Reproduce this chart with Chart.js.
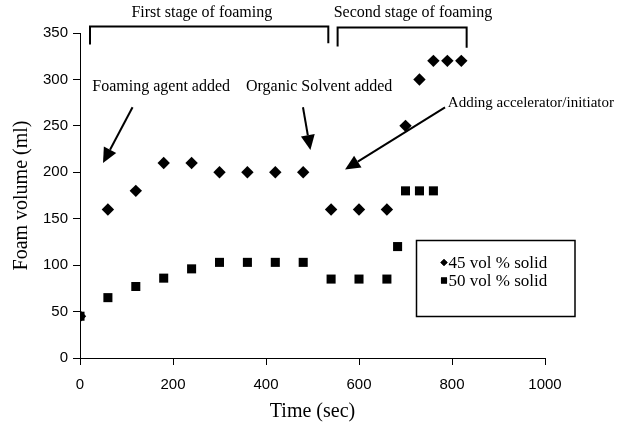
<!DOCTYPE html>
<html>
<head>
<meta charset="utf-8">
<script src="https://cdn.jsdelivr.net/npm/chart.js@4/dist/chart.umd.min.js"></script>
<style>
html,body{margin:0;padding:0;background:#fff;}
#wrap{width:636px;height:426px;position:relative;}
</style>
</head>
<body>
<div id="wrap"><canvas id="c" width="636" height="426"></canvas></div>
<script>
// ---- data ----
const time45 = [0, 60, 120, 180, 240, 300, 360, 420, 480, 540, 600, 660, 700, 730, 760, 790, 820];
const vol45  = [45, 160, 180, 210, 210, 200, 200, 200, 200, 160, 160, 160, 250, 300, 320, 320, 320];
const time50 = [0, 60, 120, 180, 240, 300, 360, 420, 480, 540, 600, 660, 683, 700, 730, 760];
const vol50  = [45, 65, 77, 86, 96, 103, 103, 103, 103, 85, 85, 85, 120, 180, 180, 180];
const seriesLabels = ['45 vol % solid', '50 vol % solid'];
const xTicks = [0, 200, 400, 600, 800, 1000];
const yTicks = [0, 50, 100, 150, 200, 250, 300, 350];
const xTitle = 'Time (sec)';
const yTitle = 'Foam volume (ml)';
const stageLabels = ['First stage of foaming', 'Second stage of foaming'];
const noteLabels = ['Foaming agent added', 'Organic Solvent added', 'Adding accelerator/initiator'];

const SERIF = '"Liberation Serif", "Times New Roman", serif';
const SANS = '"Liberation Sans", Arial, sans-serif';

function pts(xs, ys) { return xs.map((x, i) => ({x: x, y: ys[i]})); }

// annotation layout (data units)
const brackets = [
  {x0: 21.5, x1: 534, top: 357, b0: 337.5, b1: 339},
  {x0: 554, x1: 831.5, top: 356, b0: 335.5, b1: 334}
];
const stagePos = [{x: 262, y: 371.5}, {x: 716, y: 371.5}];
const notePos = [{x: 26.5, y: 292, size: 16}, {x: 357, y: 292, size: 16}, {x: 791, y: 275, size: 15}];
const arrows = [
  {x0: 113, y0: 270, x1: 49.5, y1: 210},
  {x0: 479.5, y0: 270, x1: 495.5, y1: 224},
  {x0: 785, y0: 270, x1: 570, y1: 203}
];

const annot = {
  id: 'annot',
  afterDraw(chart) {
    const ctx = chart.ctx, xs = chart.scales.x, ys = chart.scales.y;
    const px = v => xs.getPixelForValue(v), py = v => ys.getPixelForValue(v);
    ctx.save();
    ctx.strokeStyle = '#000'; ctx.fillStyle = '#000';
    // brackets
    ctx.lineWidth = 2;
    brackets.forEach(b => {
      ctx.beginPath();
      ctx.moveTo(px(b.x0), py(b.b0));
      ctx.lineTo(px(b.x0), py(b.top));
      ctx.lineTo(px(b.x1), py(b.top));
      ctx.lineTo(px(b.x1), py(b.b1));
      ctx.stroke();
    });
    ctx.font = '16px ' + SERIF;
    ctx.textBaseline = 'middle';
    ctx.textAlign = 'center';
    stageLabels.forEach((t, i) => ctx.fillText(t, px(stagePos[i].x), py(stagePos[i].y)));
    ctx.textAlign = 'left';
    noteLabels.forEach((t, i) => {
      ctx.font = notePos[i].size + 'px ' + SERIF;
      ctx.fillText(t, px(notePos[i].x), py(notePos[i].y));
    });
    // arrows
    arrows.forEach(a => {
      const X0 = px(a.x0), Y0 = py(a.y0), X1 = px(a.x1), Y1 = py(a.y1);
      const ang = Math.atan2(Y1 - Y0, X1 - X0);
      const L = 15, W = 7;
      const bx = X1 - L * Math.cos(ang), by = Y1 - L * Math.sin(ang);
      ctx.lineWidth = 2;
      ctx.beginPath(); ctx.moveTo(X0, Y0); ctx.lineTo(bx, by); ctx.stroke();
      ctx.beginPath();
      ctx.moveTo(X1, Y1);
      ctx.lineTo(bx + W * Math.sin(ang), by - W * Math.cos(ang));
      ctx.lineTo(bx - W * Math.sin(ang), by + W * Math.cos(ang));
      ctx.closePath(); ctx.fill();
    });
    // legend box
    const L0 = 416.5, T0 = 240.5, R0 = 575, B0 = 316.5;
    ctx.lineWidth = 1.5;
    ctx.strokeRect(L0, T0, R0 - L0, B0 - T0);
    ctx.font = '17px ' + SERIF;
    ctx.textAlign = 'left';
    ctx.textBaseline = 'middle';
    const styles = ['rectRot', 'rect'];
    const rads = [3.6, 4.3];
    chart.data.datasets.forEach((ds, i) => {
      const yy = 262.5 + i * 18;
      Chart.helpers.drawPoint(ctx, {pointStyle: styles[i], radius: rads[i], borderWidth: 0}, 444, yy);
      ctx.fillStyle = '#000';
      ctx.fill();
      ctx.fillText(ds.label, 448.5, yy + 1);
    });
    ctx.restore();
  }
};

new Chart(document.getElementById('c'), {
  type: 'scatter',
  data: {
    datasets: [
      {label: seriesLabels[0], data: pts(time45, vol45), pointStyle: 'rectRot', pointRadius: 6.2,
       backgroundColor: '#000', borderColor: '#000', borderWidth: 0, showLine: false},
      {label: seriesLabels[1], data: pts(time50, vol50), pointStyle: 'rect', pointRadius: 6.4,
       backgroundColor: '#000', borderColor: '#000', borderWidth: 0, showLine: false}
    ]
  },
  options: {
    responsive: false,
    animation: false,
    events: [],
    layout: {padding: {left: 0, right: 91, top: 33, bottom: 0}},
    plugins: {legend: {display: false}, tooltip: {enabled: false}, title: {display: false}},
    scales: {
      x: {
        type: 'linear', min: 0, max: 1000,
        afterBuildTicks: s => { s.ticks = xTicks.map(v => ({value: v})); },
        afterFit: s => { s.height = 68; },
        ticks: {color: '#000', font: {family: SANS, size: 15}, padding: 11, maxRotation: 0,
                callback: v => String(v)},
        grid: {display: true, drawOnChartArea: false, drawTicks: true, tickLength: 7, tickColor: '#000', lineWidth: 1},
        border: {display: true, color: '#000', width: 1},
        title: {display: true, text: xTitle, color: '#000', font: {family: SERIF, size: 20}, padding: {top: 0, bottom: 2}}
      },
      y: {
        type: 'linear', min: 0, max: 350,
        afterBuildTicks: s => { s.ticks = yTicks.map(v => ({value: v})); },
        afterFit: s => { s.width = 80; },
        ticks: {color: '#000', font: {family: SANS, size: 15}, padding: 5, callback: v => String(v)},
        grid: {display: true, drawOnChartArea: false, drawTicks: true, tickLength: 7, tickColor: '#000', lineWidth: 1},
        border: {display: true, color: '#000', width: 1},
        title: {display: true, text: yTitle, color: '#000', font: {family: SERIF, size: 20}, padding: {top: 10, bottom: 0}}
      }
    }
  },
  plugins: [annot]
});
</script>
</body>
</html>
